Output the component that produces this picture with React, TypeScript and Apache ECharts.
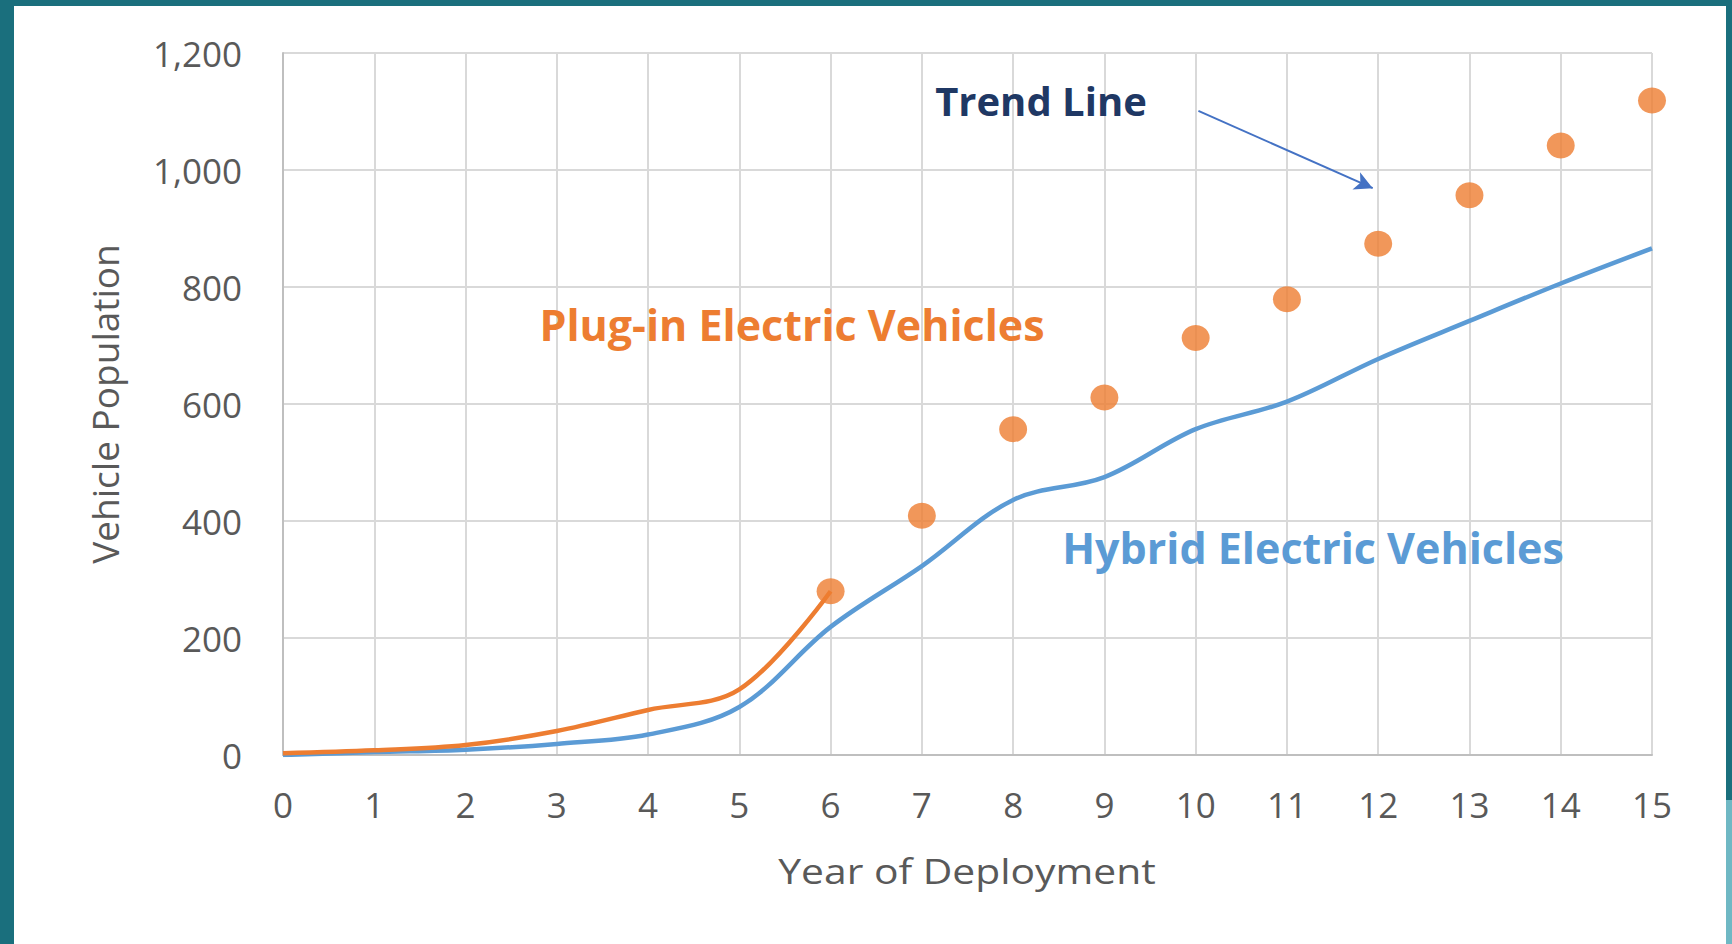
import React, { useEffect, useRef } from "react";
import * as echarts from "echarts";

const years = [0, 1, 2, 3, 4, 5, 6, 7, 8, 9, 10, 11, 12, 13, 14, 15];
const hybridValues = [0, 5, 9, 19, 35, 82, 219, 323, 436, 475, 557, 604, 677, 742, 806, 866];
const plugInYears = [0, 1, 2, 3, 4, 5, 6];
const plugInValues = [3, 8, 17, 41, 77, 112, 280];
const trendYears = [6, 7, 8, 9, 10, 11, 12, 13, 14, 15];
const trendValues = [280, 409, 557, 611, 713, 779, 874, 957, 1042, 1119];
const yTicks = [0, 200, 400, 600, 800, 1000, 1200];
const arrowFrom = [10.03, 1101];
const arrowTo = [11.94, 969];

const FONT = "'Open Sans'";

export default function App() {
  const ref = useRef<HTMLDivElement>(null);
  useEffect(() => {
    document.body.style.margin = "0";
    const chart = echarts.init(ref.current!, null, { renderer: "svg" });
    chart.setOption({
      animation: false,
      backgroundColor: "#ffffff",
      grid: { left: 283, right: 80, top: 53, bottom: 189, containLabel: false },
      xAxis: {
        type: "value",
        min: 0,
        max: 15,
        interval: 1,
        axisLine: { lineStyle: { color: "#BFBFBF", width: 2 } },
        axisTick: { show: false },
        axisLabel: { fontFamily: FONT, fontSize: 35, color: "#595959", margin: 32 },
        splitLine: { show: true, lineStyle: { color: "#D9D9D9", width: 2 } },
      },
      yAxis: {
        type: "value",
        min: yTicks[0],
        max: yTicks[yTicks.length - 1],
        interval: 200,
        name: "Vehicle Population",
        nameLocation: "middle",
        nameGap: 160,
        nameTextStyle: { fontFamily: FONT, fontSize: 37, color: "#595959" },
        axisLine: { show: true, lineStyle: { color: "#BFBFBF", width: 2 } },
        axisTick: { show: false },
        axisLabel: {
          fontFamily: FONT,
          fontSize: 35,
          color: "#595959",
          margin: 41,
          formatter: (v: number) => v.toLocaleString("en-US"),
        },
        splitLine: { show: true, lineStyle: { color: "#D9D9D9", width: 2 } },
      },
      series: [
        {
          name: "Hybrid Electric Vehicles",
          type: "line",
          smooth: 0.35,
          showSymbol: false,
          lineStyle: { color: "#5B9BD5", width: 4.5 },
          data: years.map((x, i) => [x, hybridValues[i]]),
          z: 2,
        },
        {
          name: "Plug-in Electric Vehicles",
          type: "line",
          smooth: 0.35,
          showSymbol: false,
          lineStyle: { color: "#ED7D31", width: 4.5 },
          data: plugInYears.map((x, i) => [x, plugInValues[i]]),
          z: 3,
        },
        {
          name: "Trend",
          type: "scatter",
          symbol: "circle",
          symbolSize: [28, 26],
          itemStyle: { color: "#ED7D31" },
          data: trendYears.map((x, i) => [x, trendValues[i]]),
          z: 4,
          markLine: {
            silent: true,
            symbol: ["none", "arrow"],
            symbolSize: [14, 18],
            label: { show: false },
            lineStyle: { color: "#4472C4", width: 2, type: "solid" },
            data: [[{ coord: arrowFrom }, { coord: arrowTo }]],
          },
        },
      ],
      graphic: [
        { type: "rect", left: 0, top: 0, shape: { width: 1732, height: 6 }, style: { fill: "#1A6F7D" }, z: 10 },
        { type: "rect", left: 0, top: 0, shape: { width: 14, height: 944 }, style: { fill: "#1A6F7D" }, z: 10 },
        { type: "rect", left: 1726, top: 0, shape: { width: 6, height: 800 }, style: { fill: "#1A6F7D" }, z: 10 },
        { type: "rect", left: 1726, top: 800, shape: { width: 6, height: 144 }, style: { fill: "#6FB8C4" }, z: 10 },
        {
          type: "text",
          x: 967,
          y: 871,
          scaleX: 1.2,
          style: {
            text: "Year of Deployment",
            fontFamily: FONT,
            fontSize: 34,
            fill: "#595959",
            align: "center",
            verticalAlign: "middle",
          },
          z: 10,
        },
        {
          type: "text",
          x: 1041,
          y: 100,
          style: {
            text: "Trend Line",
            fontFamily: FONT,
            fontWeight: "bold",
            fontSize: 40,
            fill: "#1F3864",
            align: "center",
            verticalAlign: "middle",
          },
          z: 10,
        },
        {
          type: "text",
          x: 792,
          y: 324,
          style: {
            text: "Plug-in Electric Vehicles",
            fontFamily: FONT,
            fontWeight: "bold",
            fontSize: 43,
            fill: "#ED7D31",
            align: "center",
            verticalAlign: "middle",
          },
          z: 10,
        },
        {
          type: "text",
          x: 1313,
          y: 547,
          style: {
            text: "Hybrid Electric Vehicles",
            fontFamily: FONT,
            fontWeight: "bold",
            fontSize: 43,
            fill: "#5B9BD5",
            align: "center",
            verticalAlign: "middle",
          },
          z: 10,
        },
      ],
    });
    return () => chart.dispose();
  }, []);
  return <div ref={ref} style={{ width: 1732, height: 944 }} />;
}
